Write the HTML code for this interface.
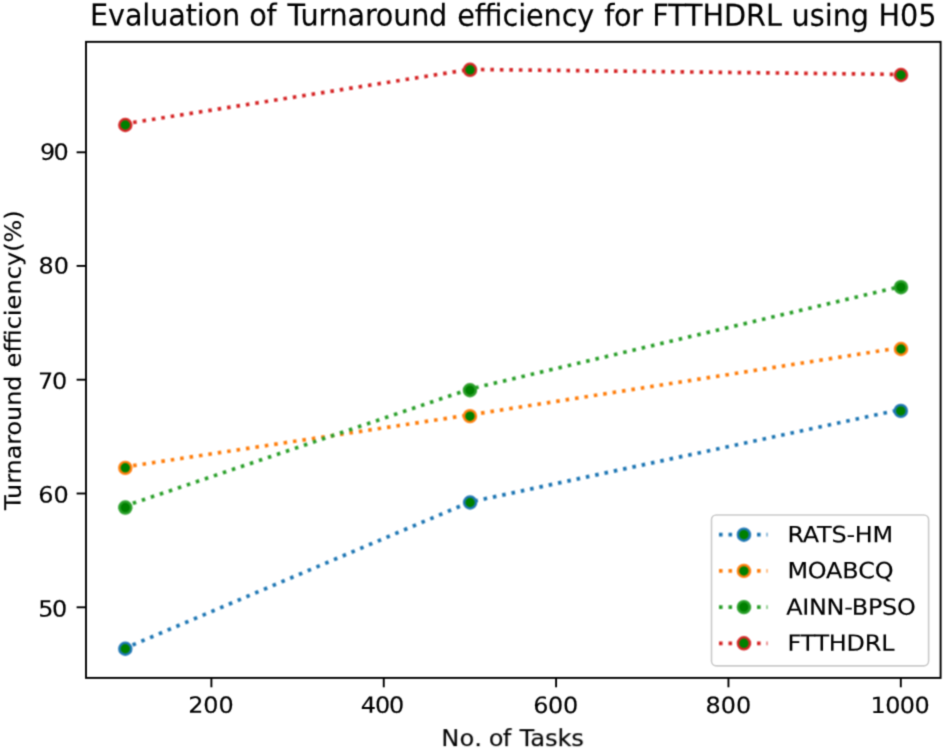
<!DOCTYPE html>
<html lang="en">
<head>
<meta charset="utf-8">
<title>Evaluation of Turnaround efficiency for FTTHDRL using H05</title>
<style>
html,body{margin:0;padding:0;background:#fff;}
body{width:944px;height:749px;overflow:hidden;}
svg{display:block;}
text{font-family:"DejaVu Sans","Liberation Sans",sans-serif;fill:#000;}
.t{font-size:23.9px;}
.ti{font-size:28.7px;}
</style>
</head>
<body>
<svg width="944" height="749" viewBox="0 0 944 749">
<defs>
<filter id="fa" x="0" y="0" width="944" height="749" filterUnits="userSpaceOnUse" color-interpolation-filters="sRGB"><feConvolveMatrix order="3" kernelMatrix="1 4 1 4 16 4 1 4 1" divisor="36" edgeMode="none" preserveAlpha="false"/></filter>
<filter id="fb" x="0" y="0" width="944" height="749" filterUnits="userSpaceOnUse" color-interpolation-filters="sRGB"><feConvolveMatrix order="3" kernelMatrix="1 2 1 2 4 2 1 2 1" divisor="16" edgeMode="none" preserveAlpha="false"/></filter>
</defs>
<rect x="0" y="0" width="944" height="749" fill="#ffffff"/>
<g filter="url(#fb)">
<polyline points="125.30,648.10 470.00,502.00 901.00,409.50" fill="none" stroke="#1f77b4" stroke-width="3.68" stroke-dasharray="3.59 5.92" stroke-dashoffset="1.6"/>
<circle cx="125.30" cy="648.75" r="5.98" fill="#008000" stroke="#1f77b4" stroke-width="2.46"/>
<circle cx="470.10" cy="502.50" r="5.98" fill="#008000" stroke="#1f77b4" stroke-width="2.46"/>
<circle cx="900.80" cy="410.90" r="5.98" fill="#008000" stroke="#1f77b4" stroke-width="2.46"/>
<polyline points="125.30,466.85 470.00,414.85 901.00,347.60" fill="none" stroke="#ff7f0e" stroke-width="3.68" stroke-dasharray="3.59 5.92" stroke-dashoffset="1.6"/>
<circle cx="125.30" cy="467.85" r="5.98" fill="#008000" stroke="#ff7f0e" stroke-width="2.46"/>
<circle cx="469.95" cy="416.15" r="5.98" fill="#008000" stroke="#ff7f0e" stroke-width="2.46"/>
<circle cx="901.00" cy="349.00" r="5.98" fill="#008000" stroke="#ff7f0e" stroke-width="2.46"/>
<polyline points="125.30,505.90 470.00,389.00 901.00,286.45" fill="none" stroke="#2ca02c" stroke-width="3.68" stroke-dasharray="3.59 5.92" stroke-dashoffset="1.6"/>
<circle cx="125.30" cy="507.55" r="5.98" fill="#008000" stroke="#2ca02c" stroke-width="2.46"/>
<circle cx="469.95" cy="390.25" r="5.98" fill="#008000" stroke="#2ca02c" stroke-width="2.46"/>
<circle cx="901.00" cy="287.20" r="5.98" fill="#008000" stroke="#2ca02c" stroke-width="2.46"/>
<polyline points="125.30,123.70 470.00,69.40 901.00,74.45" fill="none" stroke="#d62728" stroke-width="3.68" stroke-dasharray="3.59 5.92" stroke-dashoffset="1.6"/>
<circle cx="125.30" cy="125.00" r="5.98" fill="#008000" stroke="#d62728" stroke-width="2.46"/>
<circle cx="470.05" cy="69.80" r="5.98" fill="#008000" stroke="#d62728" stroke-width="2.46"/>
<circle cx="901.00" cy="75.00" r="5.98" fill="#008000" stroke="#d62728" stroke-width="2.46"/>
</g>
<g filter="url(#fa)">
<text class="ti" transform="translate(90.10,25.45) rotate(0.03) scale(1,1.055)" stroke="#000" stroke-width="0.15"><tspan x="-0.02" textLength="150.11" lengthAdjust="spacing">Evaluation</tspan> <tspan x="159.24" textLength="27.40" lengthAdjust="spacing">of</tspan> <tspan x="197.42" textLength="159.82" lengthAdjust="spacing">Turnaround</tspan> <tspan x="367.22" textLength="137.03" lengthAdjust="spacing">efficiency</tspan> <tspan x="514.18" textLength="38.77" lengthAdjust="spacing">for</tspan> <tspan x="562.09" textLength="129.79" lengthAdjust="spacing">FTTHDRL</tspan> <tspan x="701.50" textLength="77.44" lengthAdjust="spacing">using</tspan> <tspan x="788.37" textLength="58.08" lengthAdjust="spacing">H05</tspan></text>
<rect x="86.00" y="41.85" width="854.60" height="636.05" fill="none" stroke="#000" stroke-width="1.91"/>
<line x1="211.40" y1="677.90" x2="211.40" y2="687.30" stroke="#000" stroke-width="1.91"/>
<text class="t" transform="translate(188.22,712.85) rotate(0.03) scale(1,0.935)" textLength="45.48" lengthAdjust="spacing" stroke="#000" stroke-width="0.17">200</text>
<line x1="383.75" y1="677.90" x2="383.75" y2="687.30" stroke="#000" stroke-width="1.91"/>
<text class="t" transform="translate(360.87,712.84) rotate(0.03) scale(1,0.935)" textLength="43.28" lengthAdjust="spacing" stroke="#000" stroke-width="0.17">400</text>
<line x1="556.10" y1="677.90" x2="556.10" y2="687.30" stroke="#000" stroke-width="1.91"/>
<text class="t" transform="translate(533.13,712.98) rotate(0.03) scale(1,0.935)" textLength="45.17" lengthAdjust="spacing" stroke="#000" stroke-width="0.17">600</text>
<line x1="728.45" y1="677.90" x2="728.45" y2="687.30" stroke="#000" stroke-width="1.91"/>
<text class="t" transform="translate(705.46,713.08) rotate(0.03) scale(1,0.935)" textLength="45.87" lengthAdjust="spacing" stroke="#000" stroke-width="0.17">800</text>
<line x1="900.80" y1="677.90" x2="900.80" y2="687.30" stroke="#000" stroke-width="1.91"/>
<text class="t" transform="translate(870.62,713.03) rotate(0.03) scale(1,0.935)" textLength="59.07" lengthAdjust="spacing" stroke="#000" stroke-width="0.17">1000</text>
<line x1="76.60" y1="607.30" x2="86.00" y2="607.30" stroke="#000" stroke-width="1.91"/>
<text class="t" transform="translate(38.16,616.50) rotate(0.03) scale(1,0.935)" textLength="29.07" lengthAdjust="spacing" stroke="#000" stroke-width="0.17">50</text>
<line x1="76.60" y1="493.50" x2="86.00" y2="493.50" stroke="#000" stroke-width="1.91"/>
<text class="t" transform="translate(38.29,502.59) rotate(0.03) scale(1,0.935)" textLength="30.43" lengthAdjust="spacing" stroke="#000" stroke-width="0.17">60</text>
<line x1="76.60" y1="379.70" x2="86.00" y2="379.70" stroke="#000" stroke-width="1.91"/>
<text class="t" transform="translate(38.09,388.64) rotate(0.03) scale(1,0.935)" textLength="29.09" lengthAdjust="spacing" stroke="#000" stroke-width="0.17">70</text>
<line x1="76.60" y1="265.90" x2="86.00" y2="265.90" stroke="#000" stroke-width="1.91"/>
<text class="t" transform="translate(38.38,273.53) rotate(0.03) scale(1,0.935)" textLength="30.66" lengthAdjust="spacing" stroke="#000" stroke-width="0.17">80</text>
<line x1="76.60" y1="152.30" x2="86.00" y2="152.30" stroke="#000" stroke-width="1.91"/>
<text class="t" transform="translate(40.04,159.67) rotate(0.03) scale(1,0.935)" textLength="28.61" lengthAdjust="spacing" stroke="#000" stroke-width="0.17">90</text>
<text class="t" transform="translate(441.15,745.72) rotate(0.03) scale(1,0.935)" stroke="#000" stroke-width="0.20"><tspan x="0.20" textLength="40.56" lengthAdjust="spacing">No.</tspan> <tspan x="47.84" textLength="22.36" lengthAdjust="spacing">of</tspan> <tspan x="78.52" textLength="64.27" lengthAdjust="spacing">Tasks</tspan></text>
<text class="t" transform="translate(20.62,510.15) rotate(-89.97) scale(1,0.935)" stroke="#000" stroke-width="0.20"><tspan x="0.25" textLength="134.42" lengthAdjust="spacing">Turnaround</tspan> <tspan x="142.78" textLength="157.08" lengthAdjust="spacing">efficiency(%)</tspan></text>
<rect x="711.5" y="515.0" width="217.1" height="150.9" rx="4.8" ry="4.8" fill="#ffffff" fill-opacity="0.8" stroke="#cccccc" stroke-width="1.65"/>
<text class="t" transform="translate(787.40,542.29) rotate(0.03) scale(1,0.935)" textLength="105.79" lengthAdjust="spacing" stroke="#000" stroke-width="0.17">RATS-HM</text>
<text class="t" transform="translate(787.40,578.24) rotate(0.03) scale(1,0.935)" textLength="106.13" lengthAdjust="spacing" stroke="#000" stroke-width="0.17">MOABCQ</text>
<text class="t" transform="translate(786.16,614.77) rotate(0.03) scale(1,0.935)" textLength="129.57" lengthAdjust="spacing" stroke="#000" stroke-width="0.17">AINN-BPSO</text>
<text class="t" transform="translate(787.40,650.80) rotate(0.03) scale(1,0.935)" textLength="107.10" lengthAdjust="spacing" stroke="#000" stroke-width="0.17">FTTHDRL</text>
</g>
<g filter="url(#fb)">
<line x1="719.0" y1="534.7" x2="767.5" y2="534.7" stroke="#1f77b4" stroke-width="3.68" stroke-dasharray="3.59 5.92"/>
<circle cx="743.9" cy="534.7" r="5.98" fill="#008000" stroke="#1f77b4" stroke-width="2.46"/>
<line x1="719.0" y1="570.9" x2="767.5" y2="570.9" stroke="#ff7f0e" stroke-width="3.68" stroke-dasharray="3.59 5.92"/>
<circle cx="743.9" cy="570.9" r="5.98" fill="#008000" stroke="#ff7f0e" stroke-width="2.46"/>
<line x1="719.0" y1="607.1" x2="767.5" y2="607.1" stroke="#2ca02c" stroke-width="3.68" stroke-dasharray="3.59 5.92"/>
<circle cx="743.9" cy="607.1" r="5.98" fill="#008000" stroke="#2ca02c" stroke-width="2.46"/>
<line x1="719.0" y1="643.3" x2="767.5" y2="643.3" stroke="#d62728" stroke-width="3.68" stroke-dasharray="3.59 5.92"/>
<circle cx="743.9" cy="643.3" r="5.98" fill="#008000" stroke="#d62728" stroke-width="2.46"/>
</g>
</svg>
</body>
</html>
